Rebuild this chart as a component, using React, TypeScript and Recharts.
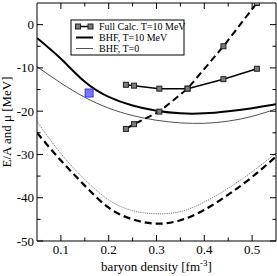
import React from "react";
import { ComposedChart, Line, Scatter, XAxis, YAxis, ReferenceArea } from "recharts";

// BHF curves, sampled every 0.05 fm^-3
const densities = [0.05, 0.1, 0.15, 0.2, 0.25, 0.3, 0.35, 0.4, 0.45, 0.5, 0.55];
const bhfT10EA = [-3.1, -7.9, -13.2, -16.7, -18.7, -19.9, -20.5, -20.5, -20.0, -19.3, -18.4];
const bhfT0EA = [-9.7, -13.5, -16.8, -19.3, -21.0, -22.1, -22.7, -22.8, -22.3, -21.2, -19.5];
const bhfT10Mu = [-25.0, -31.4, -37.2, -42.3, -45.0, -46.0, -45.2, -42.8, -39.3, -35.2, -30.5];
const bhfT0Mu = [-22.4, -29.8, -35.8, -40.5, -43.0, -43.7, -43.2, -41.0, -37.8, -34.0, -29.7];

// full calculation, T=10 MeV
const fullDensities = [0.236, 0.253, 0.306, 0.365, 0.44, 0.51];
const fullEA = [-13.9, -14.1, -14.8, -14.8, -12.6, -10.2];
const fullMu = [-24.1, -23.0, -20.1, -14.8, -5.0, 5.0];

// single blue point
const blueDensity = [0.159];
const blueValue = [-15.8];

const xTicks = [0.1, 0.15, 0.2, 0.25, 0.3, 0.35, 0.4, 0.45, 0.5];
const yTicks = [-50, -45, -40, -35, -30, -25, -20, -15, -10, -5, 0];

const W = 277;
const H = 276;
const PLOT_TOP = 3;
const PLOT_RIGHT = 276;
const FONT = "'Liberation Serif', 'Times New Roman', serif";

const zip = (xs: number[], ys: number[]) => xs.map((x, i) => ({ x, y: ys[i] }));

const XTick = (props: any) => {
  const { x, y, payload, index } = props;
  const major = index % 2 === 0;
  const len = major ? 6 : 3.5;
  return (
    <g>
      <line x1={x} x2={x} y1={y} y2={y - len} stroke="#000" />
      <line x1={x} x2={x} y1={PLOT_TOP} y2={PLOT_TOP + len} stroke="#000" />
      {major && (
        <text x={x} y={y + 13} textAnchor="middle" fontSize={13} fontFamily={FONT} fill="#000">
          {payload.value}
        </text>
      )}
    </g>
  );
};

const YTick = (props: any) => {
  const { x, y, payload } = props;
  const major = payload.value % 10 === 0;
  const len = major ? 6 : 3.5;
  return (
    <g>
      <line x1={x} x2={x + len} y1={y} y2={y} stroke="#000" />
      <line x1={PLOT_RIGHT - len} x2={PLOT_RIGHT} y1={y} y2={y} stroke="#000" />
      {major && (
        <text x={x - 3} y={y} dy={4.5} textAnchor="end" fontSize={13} fontFamily={FONT} fill="#000">
          {payload.value}
        </text>
      )}
    </g>
  );
};

const squareDot = (p: any) => (
  <rect key={p.index} x={p.cx - 2.5} y={p.cy - 2.5} width={5} height={5} fill="#7a7a7a" stroke="#222" strokeWidth={1} />
);

const blueShape = (p: any) => (
  <rect x={p.cx - 4} y={p.cy - 4} width={8} height={8} fill="#7676ff" stroke="#3a3ad8" strokeWidth={1} />
);

export default function App() {
  return (
    <div style={{ position: "absolute", left: 0, top: 0, width: W, height: H, background: "#fff" }}>
      <ComposedChart width={W} height={H} margin={{ top: PLOT_TOP, right: 1, bottom: 0, left: 0 }}>
        <XAxis
          type="number"
          dataKey="x"
          domain={[0.05, 0.55]}
          ticks={xTicks}
          interval={0}
          height={35}
          axisLine={false}
          tickLine={false}
          tickSize={0}
          tickMargin={0}
          tick={XTick}
          allowDataOverflow
        />
        <YAxis
          type="number"
          dataKey="y"
          domain={[-50, 5]}
          ticks={yTicks}
          interval={0}
          width={37}
          axisLine={false}
          tickLine={false}
          tickSize={0}
          tickMargin={0}
          tick={YTick}
          allowDataOverflow
        />
        <ReferenceArea x1={0.05} x2={0.55} y1={-50} y2={5} fill="none" stroke="#000" strokeWidth={1} />
        <Line data={zip(densities, bhfT0Mu)} dataKey="y" type="natural" stroke="#444" strokeWidth={0.7} strokeDasharray="1.2 1" dot={false} isAnimationActive={false} />
        <Line data={zip(densities, bhfT10Mu)} dataKey="y" type="natural" stroke="#000" strokeWidth={2.2} strokeDasharray="7 4" dot={false} isAnimationActive={false} />
        <Line data={zip(densities, bhfT0EA)} dataKey="y" type="natural" stroke="#222" strokeWidth={0.8} dot={false} isAnimationActive={false} />
        <Line data={zip(densities, bhfT10EA)} dataKey="y" type="natural" stroke="#000" strokeWidth={2} dot={false} isAnimationActive={false} />
        <Line data={zip(fullDensities, fullMu)} dataKey="y" type="linear" stroke="#000" strokeWidth={2} strokeDasharray="7 4" dot={squareDot} isAnimationActive={false} />
        <Line data={zip(fullDensities, fullEA)} dataKey="y" type="linear" stroke="#000" strokeWidth={1.5} dot={squareDot} isAnimationActive={false} />
        <Scatter data={zip(blueDensity, blueValue)} shape={blueShape} isAnimationActive={false} />
      </ComposedChart>
      <svg width={W} height={H} style={{ position: "absolute", left: 0, top: 0, pointerEvents: "none" }}>
        <g fontFamily={FONT} fill="#000">
          <rect x={71} y={20} width={113} height={35} fill="#fff" stroke="#000" strokeWidth={1} />
          <line x1={76} x2={92} y1={26.5} y2={26.5} stroke="#000" strokeWidth={1.5} />
          <rect x={75.5} y={24} width={5} height={5} fill="#7a7a7a" stroke="#222" />
          <rect x={88} y={24} width={5} height={5} fill="#7a7a7a" stroke="#222" />
          <text x={99} y={30} fontSize={10}>Full Calc. T=10 MeV</text>
          <line x1={76} x2={93} y1={37.5} y2={37.5} stroke="#000" strokeWidth={2} />
          <text x={99} y={41} fontSize={10}>BHF, T=10 MeV</text>
          <line x1={76} x2={93} y1={48.5} y2={48.5} stroke="#222" strokeWidth={0.8} />
          <text x={99} y={52} fontSize={10}>BHF, T=0</text>
          <text x={156.5} y={271} fontSize={13} textAnchor="middle">
            <tspan>baryon density [fm</tspan>
            <tspan dy={-5} fontSize={9}>-3</tspan>
            <tspan dy={5}>]</tspan>
          </text>
          <text x={-122} y={11} fontSize={13} textAnchor="middle" transform="rotate(-90)">
            E/A and μ [MeV]
          </text>
        </g>
      </svg>
    </div>
  );
}
